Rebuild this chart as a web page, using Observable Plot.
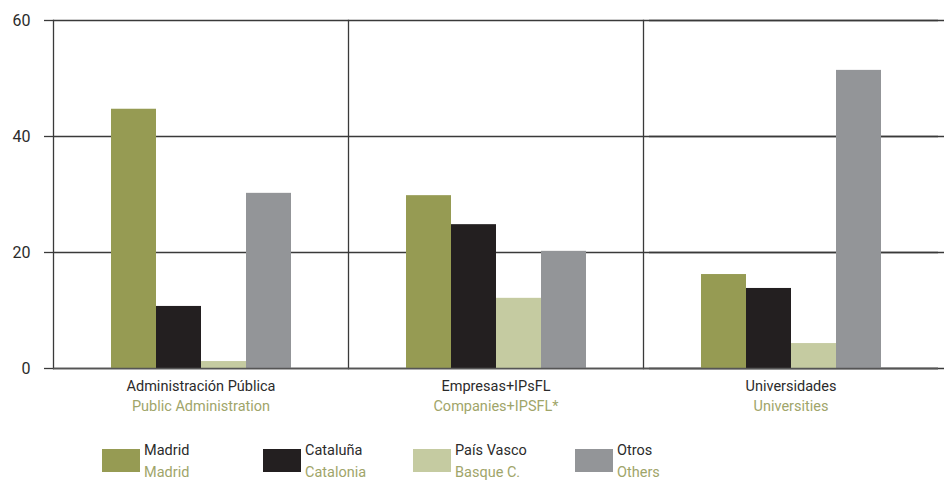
<!DOCTYPE html>
<html>
<head>
<meta charset="utf-8">
<script src="https://cdn.jsdelivr.net/npm/d3@7"></script>
<script src="https://cdn.jsdelivr.net/npm/@observablehq/plot@0.6"></script>
<style>
  html, body { margin: 0; padding: 0; background: #fff; }
  #wrap { position: relative; width: 944px; height: 482px; font-family: Roboto, "Noto Sans", sans-serif; }
  #chart svg { display: block; }
  .sw { position: absolute; width: 38px; height: 23px; }
  .lt { position: absolute; font-size: 14.5px; line-height: 22px; }
  .es { color: #2b2b2b; }
  .en { color: #9fa56a; }
</style>
</head>
<body>
<div id="wrap">
  <div id="chart"></div>
  <div id="legend"></div>
</div>
<script>
const categories = ["Administración Pública", "Empresas+IPsFL", "Universidades"];
const categoriesEn = ["Public Administration", "Companies+IPSFL*", "Universities"];
const series = ["Madrid", "Cataluña", "País Vasco", "Otros"];
const seriesEn = ["Madrid", "Catalonia", "Basque C.", "Others"];
const colors = ["#969b53", "#231f20", "#c5cba1", "#939598"];
const madrid = [44.7, 29.8, 16.2];
const cataluna = [10.7, 24.8, 13.8];
const paisVasco = [1.2, 12.1, 4.3];
const otros = [30.2, 20.2, 51.4];
const yTicks = [0, 20, 40, 60];

const seriesValues = [madrid, cataluna, paisVasco, otros];
const data = [];
categories.forEach((c, i) => {
  series.forEach((s, j) => data.push({category: c, series: s, value: seriesValues[j][i]}));
});
const lastGrid = yTicks.map(v => ({v, c: categories[categories.length - 1]}));

const chart = Plot.plot({
  width: 944,
  height: 430,
  marginLeft: 53,
  marginRight: 6,
  marginTop: 20,
  marginBottom: 62,
  style: {fontFamily: "Roboto, 'Noto Sans', sans-serif", background: "#fff", overflow: "visible"},
  fx: {domain: categories, padding: 0, axis: null},
  x: {domain: series, paddingInner: 0, paddingOuter: 1.207, axis: null},
  y: {domain: [0, 60], axis: null},
  color: {domain: series, range: colors},
  marks: [
    Plot.frame({anchor: "left", stroke: "#3a3a3a", strokeWidth: 1.3, strokeOpacity: 1}),
    Plot.ruleY(lastGrid, {y: "v", fx: "c", dx: 6, stroke: "#3a3a3a", strokeWidth: 1.3}),
    Plot.ruleY(yTicks, {stroke: "#3a3a3a", strokeWidth: 1.3}),
    Plot.barY(data, {fx: "category", x: "series", y: "value", fill: "series", inset: 0}),
    Plot.ruleY([0], {stroke: "#555", strokeWidth: 1.3}),
    Plot.axisY({ticks: yTicks, tickSize: 9, tickPadding: 14, fontSize: 16, stroke: "#3a3a3a", strokeWidth: 1.3, color: "#2b2b2b", label: null}),
    Plot.text(categories, {fx: d => d, text: d => d, frameAnchor: "bottom", dy: 22, fill: "#2b2b2b", fontSize: 14.5}),
    Plot.text(categories.map((c, i) => ({c, en: categoriesEn[i]})), {fx: "c", text: "en", frameAnchor: "bottom", dy: 42.5, fill: "#9fa56a", fontSize: 14.5})
  ]
});
document.getElementById("chart").appendChild(chart);

const swX = [102, 263, 413, 575];
const legend = document.getElementById("legend");
series.forEach((s, i) => {
  const sw = document.createElement("div");
  sw.className = "sw";
  sw.style.left = swX[i] + "px";
  sw.style.top = "449px";
  sw.style.background = colors[i];
  legend.appendChild(sw);
  const t1 = document.createElement("div");
  t1.className = "lt es";
  t1.style.left = (swX[i] + 42) + "px";
  t1.style.top = "440px";
  t1.textContent = s;
  legend.appendChild(t1);
  const t2 = document.createElement("div");
  t2.className = "lt en";
  t2.style.left = (swX[i] + 42) + "px";
  t2.style.top = "462px";
  t2.textContent = seriesEn[i];
  legend.appendChild(t2);
});
</script>
</body>
</html>
